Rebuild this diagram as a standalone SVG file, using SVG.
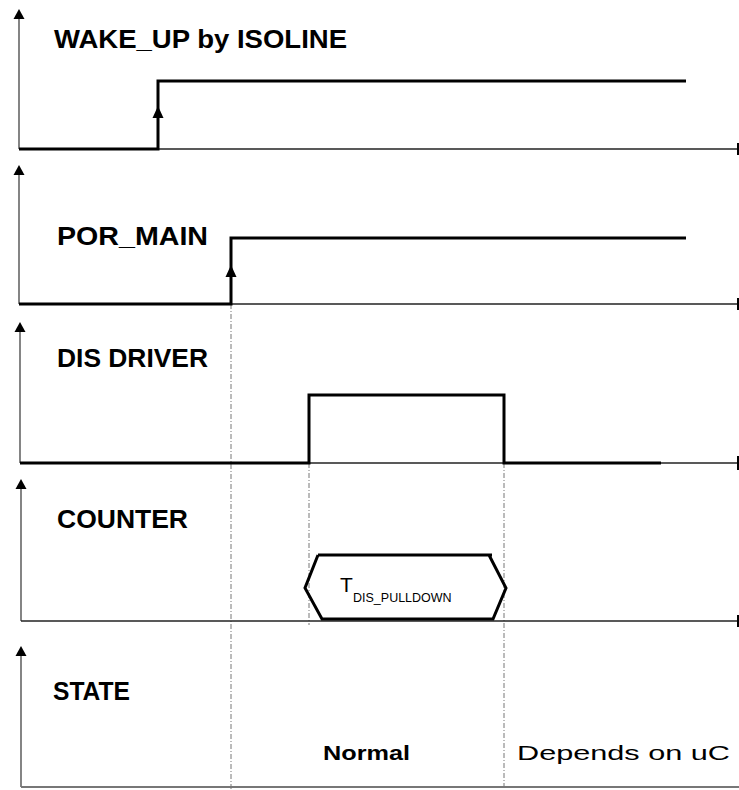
<svg xmlns="http://www.w3.org/2000/svg" width="739" height="790" viewBox="0 0 739 790">
<style>
.axis{stroke:#333;stroke-width:1.2;fill:none}
.base{stroke:#222;stroke-width:1.3;fill:none}
.sig{stroke:#000;stroke-width:3;fill:none;stroke-linejoin:miter}
.tick{stroke:#000;stroke-width:2}
.dash{stroke:#777;stroke-width:1;stroke-dasharray:5,2,1,2;fill:none}
.head{fill:#000}
.lbl{font-family:"Liberation Sans",Arial,sans-serif;font-weight:bold;font-size:25px;fill:#000}
.st{font-family:"Liberation Sans",Arial,sans-serif;font-size:20px;fill:#000}
</style>
<rect width="739" height="790" fill="#fff"/>
<g id="connectors">
<path class="dash" d="M231,304 V790"/>
<path class="dash" d="M309,463 V625"/>
<path class="dash" d="M504,463 V790"/>
</g>
<g id="wakeup">
<path class="axis" d="M19,149 V18"/>
<polygon class="head" points="19,9 13.5,19 24.5,19"/>
<path class="base" d="M19,149 H738"/>
<path class="tick" d="M738,143 V155"/>
<path class="sig" d="M19,149 H158 V81 H686"/>
<polygon class="head" points="158,106 152.5,118 163.5,118"/>
<text class="lbl" x="54" y="48" textLength="293" lengthAdjust="spacingAndGlyphs">WAKE_UP by ISOLINE</text>
</g>
<g id="por_main">
<path class="axis" d="M19,304 V174"/>
<polygon class="head" points="19,165 13.5,175 24.5,175"/>
<path class="base" d="M19,304 H738"/>
<path class="tick" d="M738,298 V310"/>
<path class="sig" d="M19,304 H231 V238 H686"/>
<polygon class="head" points="231,265 225.5,277 236.5,277"/>
<text class="lbl" x="57" y="245" textLength="151" lengthAdjust="spacingAndGlyphs">POR_MAIN</text>
</g>
<g id="dis_driver">
<path class="axis" d="M20,463 V331"/>
<polygon class="head" points="20,322 14.5,332 25.5,332"/>
<path class="base" d="M20,463 H738"/>
<path class="tick" d="M738,456 V470"/>
<path class="sig" d="M20,463 H309 V395 H504 V463 H661"/>
<text class="lbl" x="57" y="367" textLength="151" lengthAdjust="spacingAndGlyphs">DIS DRIVER</text>
</g>
<g id="counter">
<path class="axis" d="M21,621 V488"/>
<polygon class="head" points="21,479 15.5,489 26.5,489"/>
<path class="base" d="M21,621 H738"/>
<path class="tick" d="M738,615 V627"/>
<path class="sig" d="M318,555 H492 M489,555 L506,588 L493,619 H322 L305,588 L318,555"/>
<text font-family="Liberation Sans, Arial, sans-serif" font-size="21" x="340" y="592">T<tspan font-size="12.5" x="353" y="602">DIS_PULLDOWN</tspan></text>
<text class="lbl" x="57" y="528" textLength="131" lengthAdjust="spacingAndGlyphs">COUNTER</text>
</g>
<g id="state">
<path class="axis" d="M21,787 V655"/>
<polygon class="head" points="21,646 15.5,656 26.5,656"/>
<path d="M21,787 H739" stroke="#777" stroke-width="2" fill="none"/>
<text class="lbl" x="53" y="700" textLength="77" lengthAdjust="spacingAndGlyphs">STATE</text>
<text class="st" font-weight="bold" x="323" y="760" textLength="87" lengthAdjust="spacingAndGlyphs">Normal</text>
<text class="st" x="517" y="760" textLength="213" lengthAdjust="spacingAndGlyphs">Depends on uC</text>
</g>
</svg>
